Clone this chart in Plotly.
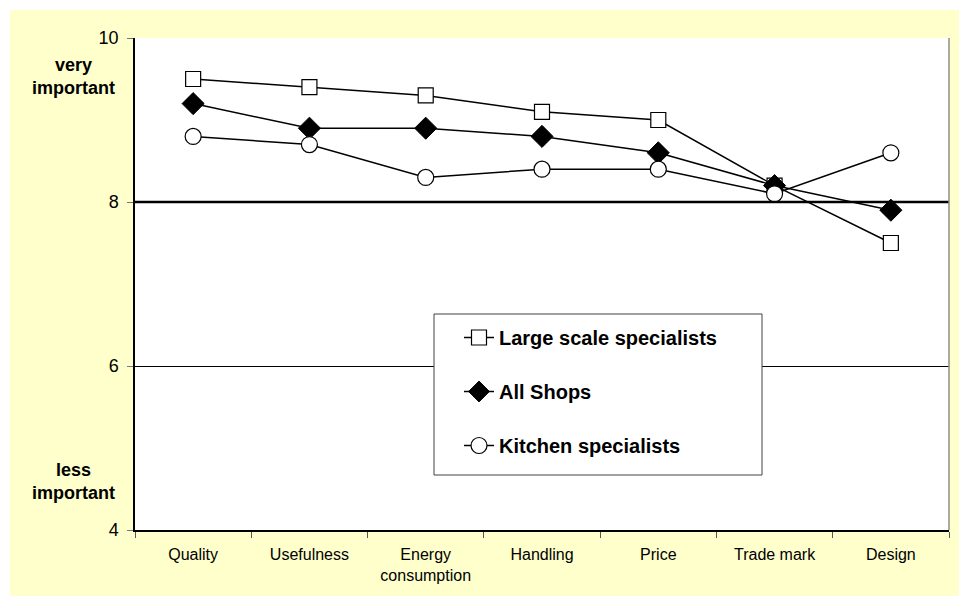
import plotly.graph_objects as go

# Ratings of product attributes by shop type (scale 4 = less important, 10 = very important)
categories = ["Quality", "Usefulness", "Energy<br>consumption", "Handling",
              "Price", "Trade mark", "Design"]
large_scale = [9.5, 9.4, 9.3, 9.1, 9.0, 8.2, 7.5]
all_shops = [9.2, 8.9, 8.9, 8.8, 8.6, 8.2, 7.9]
kitchen = [8.8, 8.7, 8.3, 8.4, 8.4, 8.1, 8.6]
y_ticks = [4, 6, 8, 10]

W, H = 959, 596
L, R, T, B = 135, 10, 38, 66
pw, ph = W - L - R, H - T - B

def px_x(x):
    return (x - L) / pw

def px_y(y):
    return (H - B - y) / ph

FONT = "Liberation Sans, Arial, sans-serif"
NARROW = "Liberation Sans Narrow, Arial Narrow, Liberation Sans, Arial, sans-serif"
YELLOW = "#FFFFCC"

fig = go.Figure()

series = [
    ("Large scale specialists", large_scale,
     dict(symbol="square", size=15, color="white", line=dict(color="black", width=1.2))),
    ("All Shops", all_shops,
     dict(symbol="diamond", size=17, color="black", line=dict(color="black", width=1))),
    ("Kitchen specialists", kitchen,
     dict(symbol="circle", size=16, color="white", line=dict(color="black", width=1.2))),
]
for i, (name, vals, marker) in enumerate(series):
    fig.add_trace(go.Scatter(
        x=categories, y=vals, name=name, mode="lines+markers",
        line=dict(color="black", width=1.5), marker=marker,
        legendgroup=f"g{i}",
    ))

shapes = [
    # outer pale-yellow panel
    dict(type="rect", xref="paper", yref="paper", layer="below",
         x0=px_x(10), x1=px_x(W + 5), y0=px_y(H + 5), y1=px_y(10),
         fillcolor=YELLOW, line=dict(width=0)),
    # white plotting area
    dict(type="rect", xref="paper", yref="paper", layer="below",
         x0=0, x1=1, y0=0, y1=1, fillcolor="white", line=dict(width=0)),
    # emphasised reference line at 8
    dict(type="line", xref="paper", yref="y", x0=0, x1=1, y0=8, y1=8,
         line=dict(color="black", width=2.5)),
    # right border of the plotting area
    dict(type="line", xref="paper", yref="paper", x0=1, x1=1, y0=0, y1=1,
         line=dict(color="#8c8c8c", width=1.5)),
    # framed panel behind the legend entries
    dict(type="rect", xref="paper", yref="paper", layer="above",
         x0=px_x(434), x1=px_x(762), y0=px_y(475), y1=px_y(314),
         fillcolor="white", line=dict(color="#404040", width=1)),
]

annotations = [
    dict(text="<b>very<br>important</b>", xref="paper", yref="paper",
         x=px_x(73), y=px_y(76), xanchor="center", yanchor="middle",
         showarrow=False, align="center",
         font=dict(family=FONT, size=18, color="black")),
    dict(text="<b>less<br>important</b>", xref="paper", yref="paper",
         x=px_x(73), y=px_y(481), xanchor="center", yanchor="middle",
         showarrow=False, align="center",
         font=dict(family=FONT, size=18, color="black")),
]

fig.update_layout(
    width=W, height=H,
    margin=dict(l=L, r=R, t=T, b=B),
    paper_bgcolor="white",
    plot_bgcolor="rgba(0,0,0,0)",
    font=dict(family=FONT, color="black"),
    shapes=shapes,
    annotations=annotations,
    showlegend=True,
    legend=dict(
        x=px_x(459), y=px_y(318), xanchor="left", yanchor="top",
        bgcolor="rgba(0,0,0,0)", borderwidth=0,
        font=dict(family=FONT, size=20, color="black", weight="bold"),
        tracegroupgap=25, traceorder="grouped",
        itemclick=False, itemdoubleclick=False,
    ),
    xaxis=dict(
        type="category", showgrid=False, zeroline=False,
        showline=True, linecolor="black", linewidth=1.5,
        ticks="outside", tickson="boundaries", ticklen=6, tickcolor="#555555",
        tickfont=dict(family=NARROW, size=16, color="black"),
        ticklabelstandoff=9,
        range=[-0.5, 6.5], fixedrange=True,
    ),
    yaxis=dict(
        range=[4, 10], tickvals=y_ticks, showgrid=True,
        gridcolor="black", gridwidth=1, zeroline=False,
        showline=True, linecolor="black", linewidth=1.5,
        ticks="outside", ticklen=6, tickcolor="#777777",
        tickfont=dict(family=FONT, size=18, color="black"),
        ticklabelstandoff=5,
        fixedrange=True,
    ),
)

fig.write_html("out.html")
